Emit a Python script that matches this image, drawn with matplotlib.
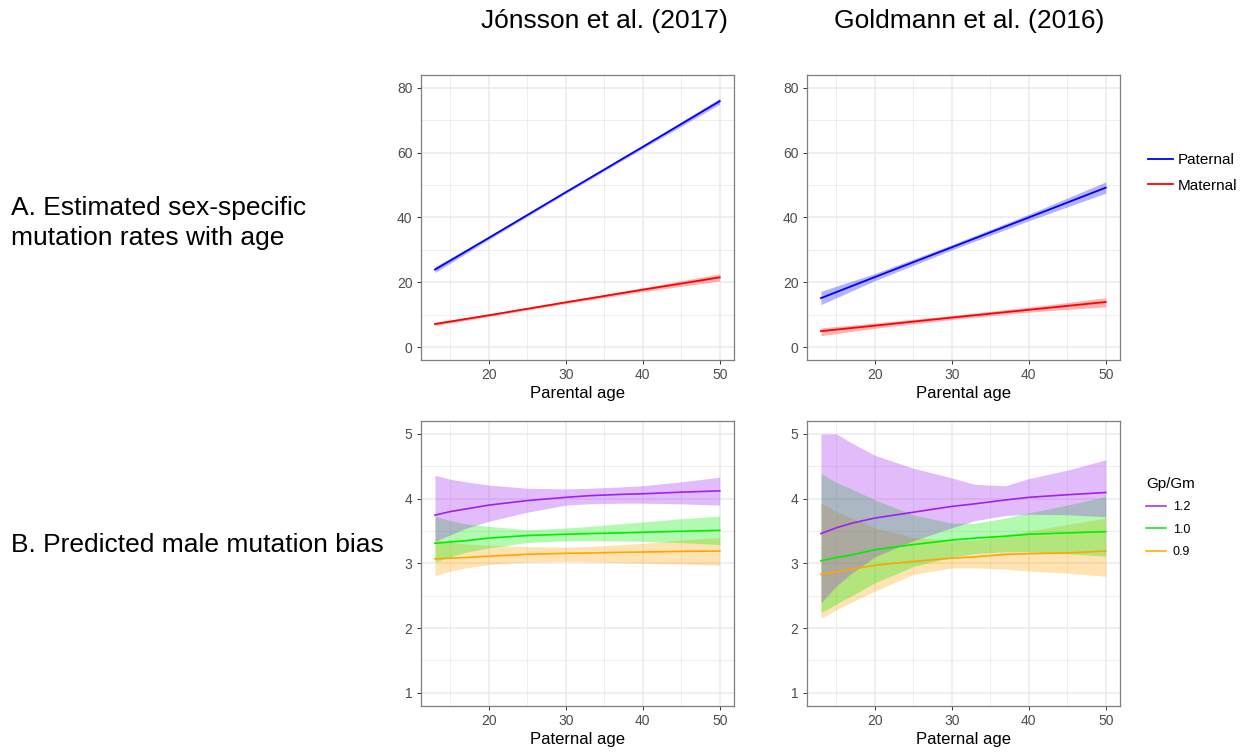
import numpy as np
import matplotlib
matplotlib.use("Agg")
from matplotlib import pyplot as plt
from matplotlib.lines import Line2D

plt.rcParams['font.family'] = ['Liberation Sans', 'DejaVu Sans']

# --- top row: sex-specific mutation rates ---
age_top = [13, 20, 30, 40, 50]

jon_pat = [23.9, 33.7, 47.8, 61.8, 75.9]
jon_pat_hi = [24.8, 34.2, 48.2, 62.3, 76.8]
jon_pat_lo = [23.0, 33.2, 47.4, 61.3, 75.0]
jon_mat = [7.1, 9.8, 13.8, 17.7, 21.5]
jon_mat_hi = [7.6, 10.2, 14.2, 18.3, 22.6]
jon_mat_lo = [6.6, 9.4, 13.4, 17.1, 20.4]

gol_pat = [15.1, 21.6, 30.8, 40.0, 49.2]
gol_pat_hi = [17.2, 22.7, 31.6, 41.0, 51.0]
gol_pat_lo = [13.1, 20.5, 30.0, 39.0, 47.5]
gol_mat = [4.9, 6.6, 9.1, 11.5, 13.9]
gol_mat_hi = [5.9, 7.4, 9.7, 12.3, 15.2]
gol_mat_lo = [3.5, 5.8, 8.5, 10.8, 12.4]

# --- bottom row: predicted male mutation bias ---
age_bot = [13, 15, 17, 20, 25, 30, 33, 37, 40, 45, 50]

jon_12 = [3.745, 3.80, 3.84, 3.90, 3.97, 4.02, 4.045, 4.065, 4.075, 4.10, 4.12]
jon_12_hi = [4.36, 4.30, 4.26, 4.21, 4.16, 4.15, 4.16, 4.18, 4.20, 4.26, 4.33]
jon_12_lo = [3.34, 3.44, 3.54, 3.65, 3.79, 3.90, 3.92, 3.93, 3.93, 3.92, 3.90]
jon_10 = [3.31, 3.33, 3.35, 3.39, 3.43, 3.45, 3.46, 3.47, 3.48, 3.495, 3.51]
jon_10_hi = [3.73, 3.66, 3.61, 3.57, 3.52, 3.545, 3.57, 3.61, 3.64, 3.69, 3.73]
jon_10_lo = [3.02, 3.10, 3.17, 3.24, 3.32, 3.35, 3.35, 3.345, 3.34, 3.32, 3.29]
jon_09 = [3.07, 3.08, 3.09, 3.11, 3.14, 3.155, 3.16, 3.17, 3.175, 3.185, 3.19]
jon_09_hi = [3.37, 3.33, 3.30, 3.28, 3.26, 3.25, 3.26, 3.29, 3.31, 3.36, 3.40]
jon_09_lo = [2.81, 2.88, 2.93, 2.98, 3.02, 3.03, 3.025, 3.01, 3.00, 2.99, 2.97]

gol_12 = [3.46, 3.55, 3.62, 3.70, 3.79, 3.88, 3.92, 3.98, 4.02, 4.06, 4.095]
gol_12_hi = [5.0, 5.0, 4.86, 4.67, 4.47, 4.32, 4.22, 4.20, 4.31, 4.44, 4.60]
gol_12_lo = [2.39, 2.65, 2.85, 3.10, 3.35, 3.55, 3.66, 3.74, 3.76, 3.75, 3.72]
gol_10 = [3.04, 3.09, 3.13, 3.21, 3.29, 3.36, 3.39, 3.42, 3.45, 3.47, 3.49]
gol_10_hi = [4.39, 4.25, 4.15, 3.98, 3.75, 3.62, 3.62, 3.70, 3.78, 3.90, 4.03]
gol_10_lo = [2.24, 2.37, 2.50, 2.70, 2.95, 3.10, 3.15, 3.18, 3.18, 3.15, 3.11]
gol_09 = [2.83, 2.87, 2.91, 2.97, 3.03, 3.08, 3.10, 3.14, 3.15, 3.16, 3.19]
gol_09_hi = [3.93, 3.80, 3.70, 3.55, 3.40, 3.35, 3.36, 3.44, 3.50, 3.60, 3.70]
gol_09_lo = [2.15, 2.28, 2.40, 2.57, 2.83, 2.93, 2.93, 2.91, 2.88, 2.85, 2.80]

ratio_labels = ['1.2', '1.0', '0.9']
ratio_colors = ['#A020F0', '#00EE00', '#FFA500']

GRID = '#EBEBEB'


def style_axes(ax, ymin, ymax, yticks, yminor):
    xpad = (50 - 13) * 0.05
    ypad = (ymax - ymin) * 0.05
    ax.set_xlim(13 - xpad, 50 + xpad)
    ax.set_ylim(ymin - ypad, ymax + ypad)
    ax.set_xticks([20, 30, 40, 50])
    ax.set_xticks([15, 25, 35, 45], minor=True)
    ax.set_yticks(yticks)
    ax.set_yticks(yminor, minor=True)
    ax.grid(True, which='major', color=GRID, lw=1.1)
    ax.grid(True, which='minor', color=GRID, lw=0.6)
    ax.set_axisbelow(True)
    for s in ax.spines.values():
        s.set_color('#7F7F7F')
        s.set_linewidth(0.9)
    ax.tick_params(which='major', length=3, width=0.7, color='#333333',
                   labelsize=10, labelcolor='#4D4D4D', pad=3)
    ax.tick_params(which='minor', length=0)


def band(ax, x, y, lo, hi, color, lw=1.3):
    ax.fill_between(x, lo, hi, color=color, alpha=0.3, lw=0)
    ax.plot(x, y, color=color, lw=lw)


fig = plt.figure(figsize=(12.44, 7.55), dpi=100)

ax_tl = fig.add_axes([0.3382, 0.5232, 0.2518, 0.3775])
ax_tr = fig.add_axes([0.6485, 0.5232, 0.2518, 0.3775])
ax_bl = fig.add_axes([0.3382, 0.0653, 0.2518, 0.3771])
ax_br = fig.add_axes([0.6485, 0.0653, 0.2518, 0.3771])

# top panels
band(ax_tl, age_top, jon_pat, jon_pat_lo, jon_pat_hi, '#0000FF')
band(ax_tl, age_top, jon_mat, jon_mat_lo, jon_mat_hi, '#FF0000')
band(ax_tr, age_top, gol_pat, gol_pat_lo, gol_pat_hi, '#0000FF')
band(ax_tr, age_top, gol_mat, gol_mat_lo, gol_mat_hi, '#FF0000')
for ax in (ax_tl, ax_tr):
    style_axes(ax, 0, 80, [0, 20, 40, 60, 80], [10, 30, 50, 70])
    ax.set_xlabel('Parental age', fontsize=12, labelpad=3)

# bottom panels (drawn 0.9, 1.0, 1.2 so purple sits on top)
jon_sets = [(jon_12, jon_12_lo, jon_12_hi), (jon_10, jon_10_lo, jon_10_hi),
            (jon_09, jon_09_lo, jon_09_hi)]
gol_sets = [(gol_12, gol_12_lo, gol_12_hi), (gol_10, gol_10_lo, gol_10_hi),
            (gol_09, gol_09_lo, gol_09_hi)]
for ax, sets in ((ax_bl, jon_sets), (ax_br, gol_sets)):
    for (y, lo, hi), c in reversed(list(zip(sets, ratio_colors))):
        band(ax, age_bot, y, lo, hi, c, lw=1.2)
    style_axes(ax, 1, 5, [1, 2, 3, 4, 5], [1.5, 2.5, 3.5, 4.5])
    ax.set_xlabel('Paternal age', fontsize=12, labelpad=3)

# column headers and row labels
fig.text(0.486, 0.972, 'Jónsson et al. (2017)', fontsize=19, ha='center', va='center')
fig.text(0.779, 0.972, 'Goldmann et al. (2016)', fontsize=19, ha='center', va='center')
fig.text(0.009, 0.705, 'A. Estimated sex-specific\nmutation rates with age',
         fontsize=19, ha='left', va='center', linespacing=1.32)
fig.text(0.009, 0.278, 'B. Predicted male mutation bias', fontsize=19,
         ha='left', va='center')

# legends
sex_handles = [Line2D([], [], color='#0000FF', lw=1.3),
               Line2D([], [], color='#FF0000', lw=1.3)]
fig.legend(sex_handles, ['Paternal', 'Maternal'], loc='upper left',
           bbox_to_anchor=(0.923, 0.797), frameon=False, fontsize=11,
           handlelength=1.6, handletextpad=0.35, labelspacing=0.75,
           borderaxespad=0, borderpad=0)

ratio_handles = [Line2D([], [], color=c, lw=1.1) for c in ratio_colors]
leg = fig.legend(ratio_handles, ratio_labels, title='Gp/Gm', loc='upper left',
                 bbox_to_anchor=(0.9215, 0.368), frameon=False, fontsize=9,
                 title_fontsize=11, handlelength=1.6, handletextpad=0.5,
                 labelspacing=0.82, borderaxespad=0, borderpad=0)
leg._legend_box.align = 'left'

fig.savefig('out.png', dpi=100)
